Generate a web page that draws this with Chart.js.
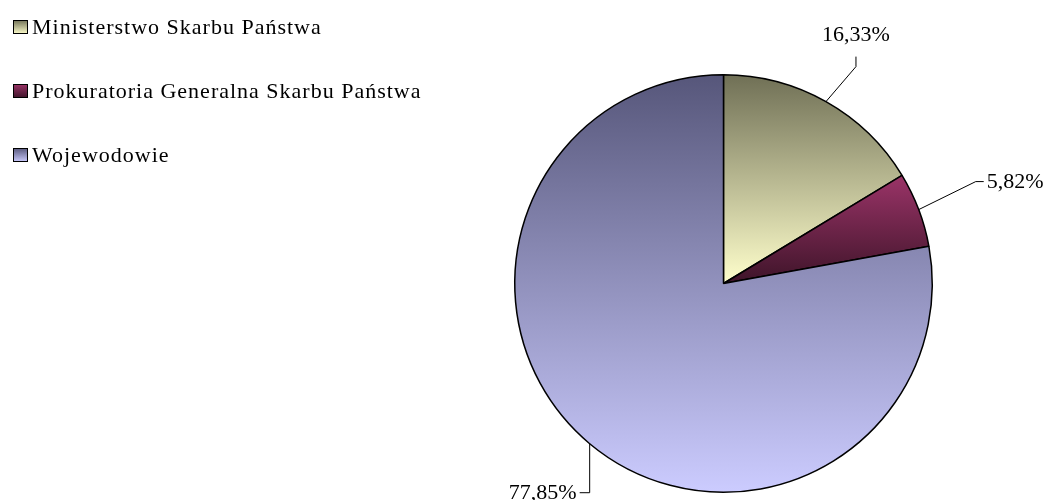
<!DOCTYPE html>
<html>
<head>
<meta charset="utf-8">
<script src="https://cdn.jsdelivr.net/npm/chart.js@4"></script>
<style>
  html, body { margin: 0; padding: 0; background: #fff; }
  #wrap { width: 1053px; height: 500px; }
</style>
</head>
<body>
<div id="wrap"><canvas id="pie-chart" width="1053" height="500"></canvas></div>
<script>
const labels = ['Ministerstwo Skarbu Państwa', 'Prokuratoria Generalna Skarbu Państwa', 'Wojewodowie'];
const shares = [16.33, 5.82, 77.85];
const valueLabels = ['16,33%', '5,82%', '77,85%'];

// gradient colours per slice: [top, bottom]
const fills = [
    ['#6f6f55', '#ffffcc'],
    ['#9b3468', '#3e1429'],
    ['#56567a', '#ccccff']
];

const FONT = '22px "Liberation Serif", "Times New Roman", serif';

// y-extent of a sector, so each slice gets its own gradient like Excel does
function sectorYRange(cy, r, a0, a1) {
    let ys = [cy, cy + r * Math.sin(a0), cy + r * Math.sin(a1)];
    for (let k = -2; k <= 2; k++) {
        const up = -Math.PI / 2 + k * 2 * Math.PI;
        const down = Math.PI / 2 + k * 2 * Math.PI;
        if (up > a0 && up < a1) ys.push(cy - r);
        if (down > a0 && down < a1) ys.push(cy + r);
    }
    return [Math.min(...ys), Math.max(...ys)];
}

function sliceFill(ctx) {
    const chart = ctx.chart;
    const area = chart.chartArea;
    if (!area) return fills[ctx.dataIndex][1];
    const cx = (area.left + area.right) / 2;
    const cy = (area.top + area.bottom) / 2;
    const r = Math.min(area.width, area.height) / 2;
    const total = shares.reduce((a, b) => a + b, 0);
    let before = 0;
    for (let i = 0; i < ctx.dataIndex; i++) before += shares[i];
    const a0 = -Math.PI / 2 + before / total * 2 * Math.PI;
    const a1 = a0 + shares[ctx.dataIndex] / total * 2 * Math.PI;
    const [y0, y1] = sectorYRange(cy, r, a0, a1);
    const g = chart.ctx.createLinearGradient(0, y0, 0, y1);
    g.addColorStop(0, fills[ctx.dataIndex][0]);
    g.addColorStop(1, fills[ctx.dataIndex][1]);
    return g;
}

// leader line offsets from slice edge: elbow, end, and text anchor
const leaders = [
    { elbow: [30, -35], end: [30, -45], text: [30, -66], align: 'center' },
    { elbow: [57, -28], end: [65, -28], text: [68, -27], align: 'left' },
    { elbow: [0, 49], end: [-10, 49], text: [-13, 50], align: 'right' }
];

const decorations = {
    id: 'decorations',
    afterDraw(chart) {
        const c = chart.ctx;
        const meta = chart.getDatasetMeta(0);
        c.save();
        c.font = FONT;
        c.fillStyle = '#000';

        // data labels with leader lines
        meta.data.forEach((arc, i) => {
            const mid = (arc.startAngle + arc.endAngle) / 2;
            const ex = arc.x + arc.outerRadius * Math.cos(mid);
            const ey = arc.y + arc.outerRadius * Math.sin(mid);
            const L = leaders[i];
            c.strokeStyle = '#000';
            c.lineWidth = 1;
            c.beginPath();
            c.moveTo(ex, ey);
            c.lineTo(ex + L.elbow[0], ey + L.elbow[1]);
            c.lineTo(ex + L.end[0], ey + L.end[1]);
            c.stroke();
            c.textAlign = L.align;
            c.textBaseline = 'middle';
            c.fillText(valueLabels[i], ex + L.text[0], ey + L.text[1]);
        });

        // legend
        c.letterSpacing = '1px';
        labels.forEach((lab, i) => {
            const y = 27 + i * 64;
            const g = c.createLinearGradient(0, y - 7, 0, y + 7);
            g.addColorStop(0, fills[i][0]);
            g.addColorStop(1, fills[i][1]);
            c.fillStyle = g;
            c.fillRect(13, y - 7, 15, 14);
            c.strokeStyle = '#000';
            c.lineWidth = 1;
            c.strokeRect(13.5, y - 6.5, 14, 13);
            c.fillStyle = '#000';
            c.textAlign = 'left';
            c.textBaseline = 'middle';
            c.fillText(lab, 32, y + 1);
        });
        c.restore();
    }
};

new Chart(document.getElementById('pie-chart'), {
    type: 'pie',
    data: {
        labels: labels,
        datasets: [{
            data: shares,
            backgroundColor: sliceFill,
            borderColor: '#000',
            borderWidth: 1.5
        }]
    },
    options: {
        responsive: false,
        animation: false,
        layout: { padding: { top: 74, bottom: 7, left: 514, right: 120 } },
        plugins: {
            legend: { display: false },
            tooltip: { enabled: false }
        }
    },
    plugins: [decorations]
});
</script>
</body>
</html>
